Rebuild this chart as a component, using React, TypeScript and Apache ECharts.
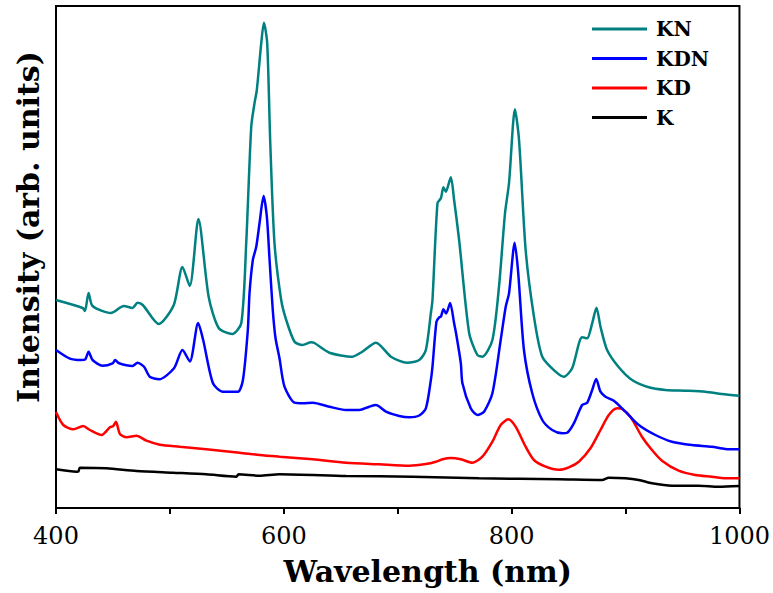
import React, { useEffect, useRef } from "react";
import * as echarts from "echarts";

// Wavelength (nm) and intensity (arb. units)
const knX = [400, 423.4, 425.4, 428.6, 432.1, 448.2, 459.6, 467.2, 471.6, 476.2, 490.2, 503.4, 511.0, 517.4, 525.0, 534.0, 542.8, 554.8, 562.7, 567.0, 571.4, 574.3, 576.3, 580.2, 582.5, 585.4, 588.1, 591.8, 597.7, 602.1, 609.4, 616.4, 624.0, 626.9, 640.0, 660.2, 668.9, 680.9, 694.1, 708.3, 718.9, 724.7, 729.1, 730.5, 734.9, 737.9, 740.1, 742.2, 746.6, 749.5, 753.9, 762.7, 769.9, 774.3, 783.1, 788.9, 794.2, 797.7, 802.9, 806.5, 812.3, 819.6, 826.9, 838.6, 845.9, 853.1, 861.9, 866.3, 870.7, 874.5, 878.0, 883.8, 894.1, 905.7, 920.3, 935.0, 952.5, 970.0, 984.5, 1000];
const knY = [208, 200, 197, 215, 202, 195, 202, 200, 205.3, 203, 184, 203, 241, 222, 289, 211.3, 180, 174, 185, 265, 381.3, 405, 418, 465, 485.3, 465, 365, 265, 208, 188, 166.3, 163, 165.7, 165, 155.3, 151.3, 156.3, 165.3, 151.3, 145.3, 148, 158, 195, 208, 305, 309.7, 320.7, 316.3, 330.7, 308, 268, 175, 153, 151.3, 168, 221.3, 295, 325, 398.7, 368, 258, 191.3, 151.3, 136.3, 131.3, 139.7, 170.7, 169.7, 184.7, 200.3, 181.3, 158, 140.7, 128, 120.7, 118, 117.3, 116.3, 114, 112.3];

const kdnX = [400, 411.7, 421.9, 425.7, 428.6, 432.1, 440.9, 449.7, 451.9, 455.4, 467.2, 471.6, 477.3, 482.3, 490.5, 503.6, 511.0, 517.5, 524.8, 529.2, 537.8, 546.5, 559.7, 564.1, 568.4, 569.9, 572.8, 575.8, 578.7, 582.2, 585.1, 587.5, 590.3, 592.7, 596.2, 600.6, 609.4, 616.6, 625.4, 640.0, 654.6, 666.3, 675.0, 680.9, 689.7, 701.3, 710.1, 718.9, 724.7, 729.1, 730.5, 734.0, 736.4, 737.9, 740.1, 742.5, 746.0, 749.5, 751.2, 755.4, 756.8, 764.1, 769.9, 775.8, 783.1, 790.4, 794.8, 797.7, 802.7, 805.8, 810.8, 818.1, 826.9, 835.6, 844.4, 848.8, 854.6, 861.9, 866.3, 870.7, 874.2, 878.0, 882.4, 889.7, 899.9, 911.6, 926.2, 940.7, 958.3, 975.8, 987.5, 1000];
const kdnY = [158, 149.7, 148, 148.7, 156.3, 148, 142.3, 144.7, 148, 144.7, 142, 145.3, 141.3, 131.3, 128.7, 139.7, 158, 146.5, 185, 168, 124.7, 116.3, 116.3, 128, 178, 215, 248, 261.3, 285, 312, 291.3, 248, 198, 170, 149.7, 121.3, 105.3, 104.7, 105.3, 101.3, 98, 98, 101.3, 103, 96.3, 92, 90.7, 92.5, 99.7, 128, 141.3, 186.3, 190.7, 191.3, 198.7, 194.5, 205, 184.7, 174.7, 144.7, 124.7, 99.7, 93, 96.3, 114.7, 168, 201.3, 214.7, 265.3, 234.7, 158, 114.7, 88, 78, 74.7, 75.3, 84.7, 103, 105.3, 118, 129, 116.3, 111.3, 107.3, 96.3, 83, 73, 66.3, 63, 61.3, 59, 58.7];

const kdX = [400, 406.4, 415.2, 423.9, 429.8, 440.0, 447.3, 450.2, 452.6, 456.1, 461.9, 470.7, 479.4, 491.1, 508.6, 532.0, 561.2, 578.7, 596.2, 625.4, 654.6, 683.8, 710.1, 724.7, 733.5, 739.3, 746.6, 755.4, 765.5, 774.3, 783.1, 790.4, 797.1, 803.5, 812.3, 819.6, 829.8, 841.5, 850.2, 859.0, 869.2, 878.0, 885.3, 892.5, 896.9, 904.3, 914.4, 923.2, 932.0, 946.6, 961.2, 975.8, 987.5, 1000];
const kdY = [96, 83, 78.7, 82, 78, 73, 80.7, 82, 86.3, 74, 70.7, 72.3, 67.3, 63.3, 61.3, 58.7, 55.3, 53, 51.3, 48.7, 45.3, 43.7, 42.3, 44, 46.3, 48.7, 50, 48.7, 45.3, 51.3, 66.3, 83, 88.7, 81.3, 61.3, 48, 41.3, 38.2, 40.7, 46.3, 59.7, 78, 93, 99.7, 99, 91.3, 71.3, 58, 47.3, 37.3, 33, 31.3, 29.7, 29.7];

const kX = [400, 418.1, 419.7, 421.0, 444.4, 470.7, 502.7, 532.0, 558.3, 560.3, 578.7, 596.2, 654.6, 713.0, 771.4, 841.5, 879.4, 885.3, 899.9, 911.6, 923.2, 940.7, 964.1, 981.6, 1000];
const kY = [38.7, 36.3, 36.5, 40.3, 39.7, 37, 35.3, 33.7, 31.3, 33.7, 32.3, 33.7, 32, 31.3, 29.7, 28.7, 28, 30.3, 29.7, 28, 24.7, 22.3, 22.3, 21.3, 22];

const seriesNames = ["KN", "KDN", "KD", "K"];
const seriesColors = ["#008080", "#0000ff", "#ff0000", "#000000"];
const xTicks = [400, 600, 800, 1000];

const zip = (xs: number[], ys: number[]) => xs.map((x, i) => [x, ys[i]]);

export default function App() {
  const ref = useRef<HTMLDivElement>(null);
  useEffect(() => {
    document.body.style.margin = "0";
    if (!ref.current) return;
    const chart = echarts.init(ref.current, undefined, { renderer: "svg" });
    const datasets = [zip(knX, knY), zip(kdnX, kdnY), zip(kdX, kdY), zip(kX, kY)];
    const series = [3, 2, 1, 0].map((i) => ({
      name: seriesNames[i],
      type: "line",
      data: datasets[i],
      showSymbol: false,
      symbol: "none",
      smooth: 0.25,
      lineStyle: { color: seriesColors[i], width: 2.5 },
      itemStyle: { color: seriesColors[i] },
      z: 2 + (3 - i),
    }));
    chart.setOption({
      animation: false,
      backgroundColor: "#ffffff",
      grid: {
        left: 56,
        right: 32,
        top: 6,
        bottom: 85,
        show: true,
        borderColor: "#000",
        borderWidth: 2,
        backgroundColor: "transparent",
      },
      legend: {
        data: seriesNames,
        orient: "vertical",
        left: 592,
        top: 19,
        padding: 0,
        itemWidth: 55,
        itemHeight: 3,
        itemGap: 9.5,
        icon: "rect",
        textStyle: {
          fontFamily: "DejaVu Serif",
          fontWeight: "bold",
          fontSize: 20,
          color: "#000",
          lineHeight: 20,
          padding: [0, 0, 0, 4],
        },
      },
      xAxis: {
        type: "value",
        min: 400,
        max: 1000,
        interval: 100,
        name: "Wavelength (nm)",
        nameLocation: "middle",
        nameGap: 48,
        nameTextStyle: {
          fontFamily: "DejaVu Serif",
          fontWeight: "bold",
          fontSize: 30,
          color: "#000",
          padding: [0, 0, 0, 60],
        },
        axisLine: { show: true, lineStyle: { color: "#000", width: 2 } },
        axisTick: { show: true, inside: false, length: 6, lineStyle: { color: "#000", width: 2 } },
        axisLabel: {
          margin: 16,
          fontFamily: "DejaVu Serif",
          fontSize: 24,
          color: "#000",
          formatter: (v: number) => (xTicks.includes(v) ? String(v) : ""),
        },
        splitLine: { show: false },
      },
      yAxis: {
        type: "value",
        min: 0,
        max: 502,
        name: "Intensity (arb. units)",
        nameLocation: "middle",
        nameGap: 13,
        nameTextStyle: {
          fontFamily: "DejaVu Serif",
          fontWeight: "bold",
          fontSize: 30,
          color: "#000",
          padding: [0, 0, 0, 60],
        },
        axisLine: { show: true, lineStyle: { color: "#000", width: 2 } },
        axisTick: { show: false },
        axisLabel: { show: false },
        splitLine: { show: false },
      },
      series,
    });
    return () => chart.dispose();
  }, []);
  return <div ref={ref} style={{ width: 773, height: 593 }} />;
}
